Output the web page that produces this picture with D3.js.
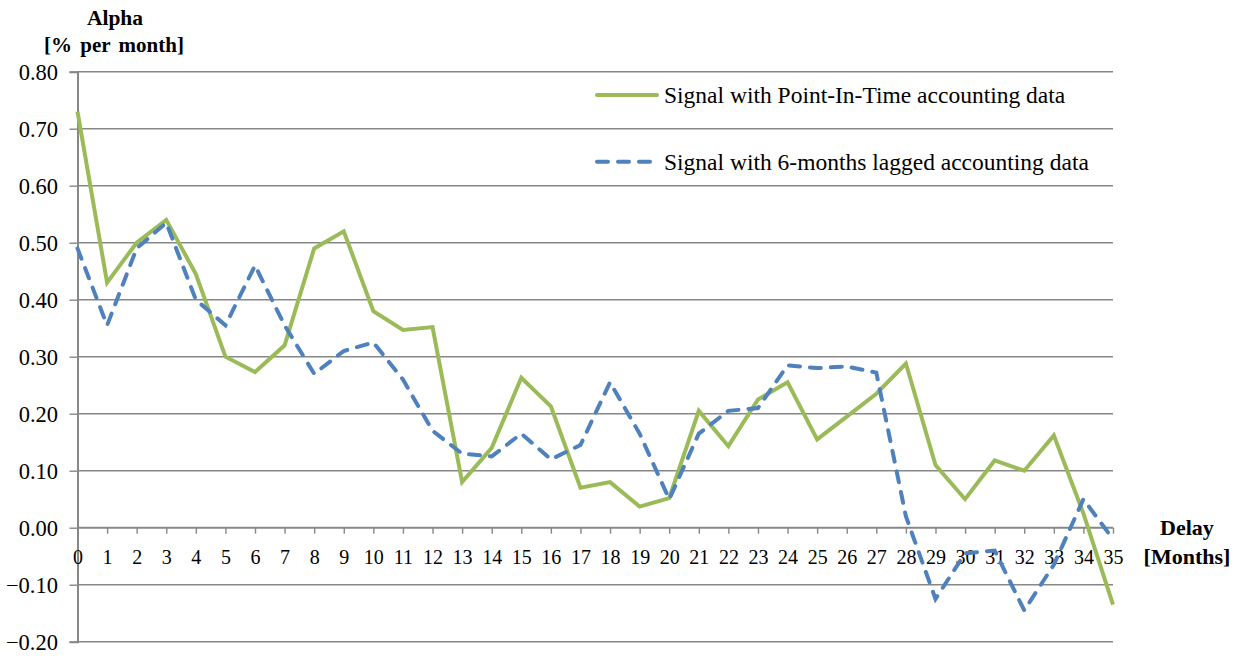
<!DOCTYPE html>
<html><head><meta charset="utf-8">
<script src="https://cdn.jsdelivr.net/npm/d3@7"></script>
<style>body{margin:0;background:#fff}svg{display:block}text{font-family:"Liberation Serif","Times New Roman",serif;fill:#000}</style>
</head><body>
<svg id="c" width="1244" height="658"></svg>
<script>
const delays = d3.range(0, 36);
const pitAlpha = [0.73,0.43,0.50,0.54,0.445,0.30,0.273,0.32,0.49,0.52,0.38,0.347,0.352,0.08,0.14,0.263,0.213,0.07,0.08,0.037,0.052,0.205,0.143,0.225,0.255,0.155,0.195,0.235,0.288,0.11,0.05,0.118,0.10,0.162,0.025,-0.135];
const laggedAlpha = [0.49,0.355,0.49,0.535,0.40,0.355,0.46,0.355,0.27,0.31,0.325,0.26,0.17,0.13,0.125,0.165,0.12,0.145,0.255,0.165,0.05,0.165,0.205,0.21,0.285,0.28,0.283,0.272,0.02,-0.125,-0.045,-0.04,-0.145,-0.065,0.05,-0.02];
const yTicks = [-0.2,-0.1,0,0.1,0.2,0.3,0.4,0.5,0.6,0.7,0.8];
const seriesNames = ["Signal with Point-In-Time accounting data","Signal with 6-months lagged accounting data"];

const svg = d3.select("#c");
const x = d3.scaleLinear().domain([0,35]).range([77.5,1113]);
const y = d3.scaleLinear().domain([-0.2,0.8]).range([641.7,71.7]);
const grid = "#878787";

// gridlines
svg.append("g").selectAll("line").data(yTicks).join("line")
  .attr("x1", x(0)).attr("x2", x(35))
  .attr("y1", d=>y(d)).attr("y2", d=>y(d))
  .attr("stroke", grid).attr("stroke-width", d=>d===0?2:1.4);

// y axis
const ya = svg.append("g").attr("transform",`translate(${x(0)},0)`)
  .call(d3.axisLeft(y).tickValues(yTicks).tickFormat(d3.format(".2f")).tickSize(8).tickPadding(11.5));
ya.attr("font-family", null);
ya.select(".domain").attr("stroke", grid).attr("stroke-width",2);
ya.selectAll(".tick line").attr("stroke", grid).attr("stroke-width",1.4);
ya.selectAll(".tick text").attr("font-size",22.5).attr("fill","#000").attr("dy","0.34em");

// x axis at zero
const xa = svg.append("g").attr("transform",`translate(0,${y(0)})`)
  .call(d3.axisBottom(x).tickValues(delays).tickFormat(d3.format("d")).tickSize(6).tickPadding(16));
xa.attr("font-family", null);
xa.select(".domain").remove();
xa.selectAll(".tick line").attr("stroke", grid).attr("stroke-width",1.4);
xa.selectAll(".tick text").attr("font-size",20).attr("fill","#000");

// lines
const line = d3.line().x((d,i)=>x(delays[i])).y(d=>y(d));
svg.append("path").datum(pitAlpha).attr("d", line).attr("fill","none")
  .attr("stroke","#9BBB59").attr("stroke-width",4).attr("stroke-linejoin","miter");
svg.append("path").datum(laggedAlpha).attr("d", line).attr("fill","none")
  .attr("stroke","#4F81BD").attr("stroke-width",4).attr("stroke-dasharray","11 10").attr("stroke-linecap","round");

// legend
const lg = svg.append("g");
lg.append("line").attr("x1",597).attr("x2",657).attr("y1",95).attr("y2",95)
  .attr("stroke","#9BBB59").attr("stroke-width",4).attr("stroke-linecap","round");
lg.append("line").attr("x1",597).attr("x2",653).attr("y1",161.7).attr("y2",161.7)
  .attr("stroke","#4F81BD").attr("stroke-width",4).attr("stroke-dasharray","11 10").attr("stroke-linecap","round");
lg.append("text").attr("x",664).attr("y",103).attr("font-size",23.5).text(seriesNames[0]);
lg.append("text").attr("x",664).attr("y",169.5).attr("font-size",23.5).text(seriesNames[1]);

// axis titles
svg.append("text").attr("x",115).attr("y",25).attr("text-anchor","middle").attr("font-size",21.5).attr("font-weight","bold").text("Alpha");
svg.append("text").attr("x",114).attr("y",52).attr("text-anchor","middle").attr("font-size",21).attr("font-weight","bold").attr("word-spacing","3px").text("[% per month]");
svg.append("text").attr("x",1187).attr("y",535).attr("text-anchor","middle").attr("font-size",22).attr("font-weight","bold").text("Delay");
svg.append("text").attr("x",1187).attr("y",564).attr("text-anchor","middle").attr("font-size",22).attr("font-weight","bold").text("[Months]");
</script>
</body></html>
